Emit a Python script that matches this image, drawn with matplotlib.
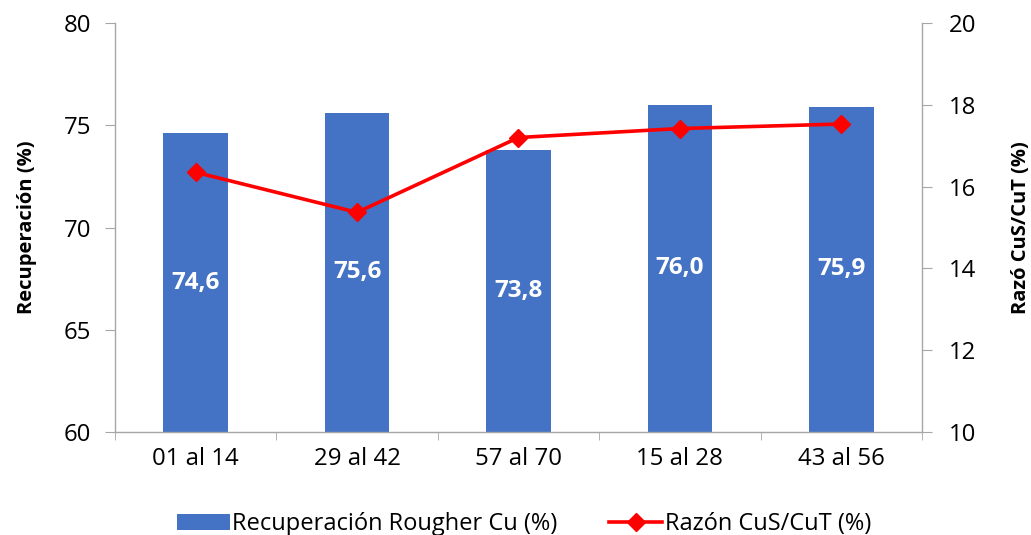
import matplotlib
matplotlib.use("Agg")
import matplotlib.pyplot as plt
from matplotlib.lines import Line2D
from matplotlib.patches import Patch
import numpy as np

plt.rcParams['font.family'] = ['Open Sans', 'DejaVu Sans']

categories = ["01 al 14", "29 al 42", "57 al 70", "15 al 28", "43 al 56"]
recuperacion = [74.6, 75.6, 73.8, 76.0, 75.9]
razon = [16.35, 15.37, 17.2, 17.42, 17.53]

bar_color = "#4472C4"
line_color = "#FF0000"
axis_gray = "#A6A6A6"
text_color = "#000000"

fig = plt.figure(figsize=(10.31, 5.35), dpi=100)
ax = fig.add_axes([0.1115, 0.1925, 0.7828, 0.7645])
ax2 = ax.twinx()

x = np.arange(len(categories))
ax.bar(x, [v - 60 for v in recuperacion], bottom=60, width=0.40,
       color=bar_color, zorder=2)
for xi, v in zip(x, recuperacion):
    ax.text(xi, (60 + v) / 2, f"{v:.1f}".replace(".", ","), ha="center", va="center",
            color="white", fontsize=17.5, fontweight="bold", zorder=3)

ax.set_xlim(-0.5, len(categories) - 0.5)
ax.set_ylim(60, 80)
ax.set_yticks([60, 65, 70, 75, 80])
ax.set_xticks(x)
ax.set_xticklabels(categories)
ax.set_xticks(np.arange(-0.5, len(categories)), minor=True)
ax.tick_params(axis="x", which="major", length=0, pad=11, labelsize=17.3, labelcolor=text_color)
ax.tick_params(axis="x", which="minor", length=6, color=axis_gray, direction="out")
ax.tick_params(axis="y", length=7, color=axis_gray, labelsize=17.3, pad=10, labelcolor=text_color)
ax.set_ylabel("Recuperación (%)", fontsize=14.5, fontweight="bold", labelpad=19)

ax2.plot(x, razon, color=line_color, linewidth=2.6, marker="D", markersize=9,
         markeredgecolor=line_color, markerfacecolor=line_color, zorder=4)
ax2.set_ylim(10, 20)
ax2.set_yticks([10, 12, 14, 16, 18, 20])
ax2.tick_params(axis="y", length=7, color=axis_gray, labelsize=17.3, pad=12, labelcolor=text_color)
ax2.set_ylabel("Razó CuS/CuT (%)", fontsize=14.5, fontweight="bold", labelpad=25,
               rotation=90)

for a in (ax, ax2):
    a.spines["top"].set_visible(False)
    for s in ("left", "right", "bottom"):
        a.spines[s].set_color(axis_gray)
        a.spines[s].set_linewidth(1.0)
ax.spines["right"].set_visible(False)
ax2.spines["left"].set_visible(False)
ax2.spines["bottom"].set_visible(False)

handles = [Patch(facecolor=bar_color, edgecolor="none"),
           Line2D([0], [0], color=line_color, linewidth=2.6, marker="D", markersize=9)]
labels = ["Recuperación Rougher Cu (%)", "Razón CuS/CuT (%)"]
fig.legend(handles, labels, loc="lower center", bbox_to_anchor=(0.508, -0.042), ncol=2,
           frameon=False, fontsize=17, handlelength=2.25, handletextpad=0.1,
           columnspacing=2.2)

fig.savefig("out.png", dpi=100)
